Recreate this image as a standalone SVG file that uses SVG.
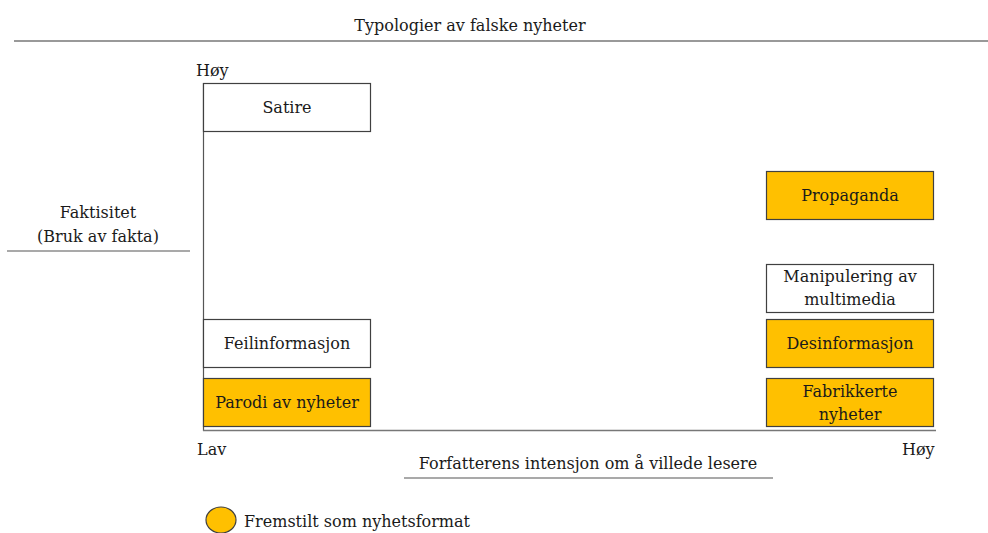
<svg xmlns="http://www.w3.org/2000/svg" width="988" height="533" viewBox="0 0 988 533">
<style>
text{font-family:"DejaVu Serif","Liberation Serif",serif;fill:#1a1a1a;font-size:16px}
.c{text-anchor:middle}
.box{stroke:#404040;stroke-width:1.2}
.w{fill:#ffffff}
.y{fill:#FFC000}
.rule{stroke:#777;stroke-width:1.5;fill:none}
.axis{stroke:#555;stroke-width:1.2;fill:none}
</style>
<rect width="988" height="533" fill="#fff"/>
<text x="470" y="31" class="c">Typologier av falske nyheter</text>
<line x1="14" y1="41" x2="988" y2="41" class="rule"/>
<g id="axes">
<line x1="203.5" y1="83" x2="203.5" y2="431" class="axis"/>
<line x1="203" y1="430.5" x2="936" y2="430.5" class="rule"/>
<text x="196" y="76">Høy</text>
<text x="197" y="455">Lav</text>
<text x="902" y="455">Høy</text>
</g>
<g id="ylabel">
<text x="98" y="218" class="c">Faktisitet</text>
<text x="98" y="242" class="c">(Bruk av fakta)</text>
<line x1="7" y1="251" x2="190" y2="251" class="axis"/>
</g>
<g id="xlabel">
<text x="588" y="469" class="c">Forfatterens intensjon om å villede lesere</text>
<line x1="404" y1="478" x2="773" y2="478" class="axis"/>
</g>
<g id="satire"><rect x="203.5" y="83.5" width="167" height="48" class="box w"/><text x="287" y="113" class="c">Satire</text></g>
<g id="feilinformasjon"><rect x="203.5" y="319.5" width="167" height="48" class="box w"/><text x="287" y="349" class="c">Feilinformasjon</text></g>
<g id="parodi"><rect x="203.5" y="378.5" width="167" height="48" class="box y"/><text x="287" y="408" class="c">Parodi av nyheter</text></g>
<g id="propaganda"><rect x="766.5" y="171.5" width="167" height="48" class="box y"/><text x="850" y="201" class="c">Propaganda</text></g>
<g id="manipulering"><rect x="766.5" y="264.5" width="167" height="48" class="box w"/><text x="850" y="282" class="c">Manipulering av</text><text x="850" y="305" class="c">multimedia</text></g>
<g id="desinformasjon"><rect x="766.5" y="319.5" width="167" height="48" class="box y"/><text x="850" y="349" class="c">Desinformasjon</text></g>
<g id="fabrikkerte"><rect x="766.5" y="378.5" width="167" height="48" class="box y"/><text x="850" y="397" class="c">Fabrikkerte</text><text x="850" y="420" class="c">nyheter</text></g>
<g id="legend">
<ellipse cx="221" cy="520" rx="15" ry="13" fill="#FFC000" stroke="#404040" stroke-width="1.2"/>
<text x="244" y="527">Fremstilt som nyhetsformat</text>
</g>
</svg>
